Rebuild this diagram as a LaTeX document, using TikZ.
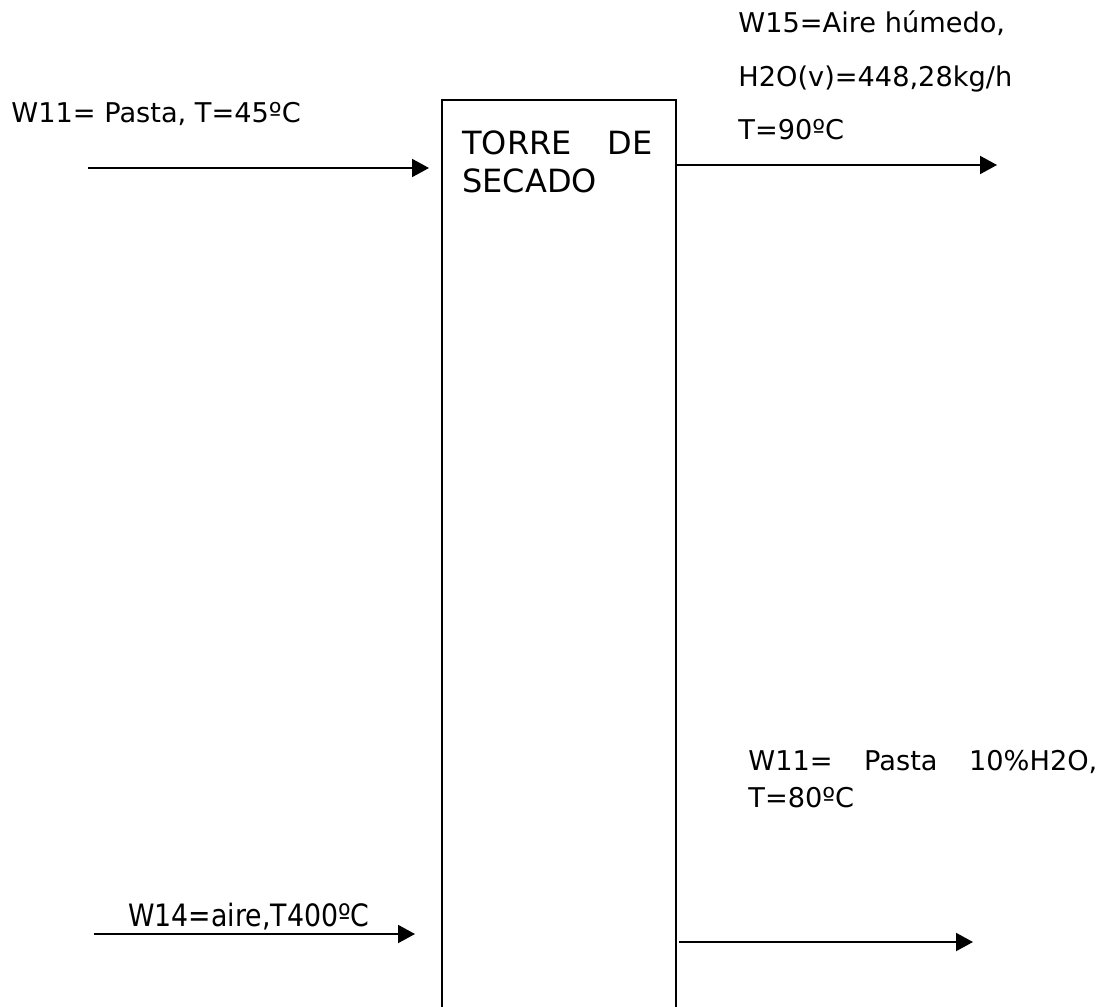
\documentclass[tikz,border=0pt]{standalone}
\usepackage{fontspec}
\setmainfont{DejaVu Sans}
\newfontfamily\narrowfont{DejaVu Sans}[FakeStretch=0.87]
\usetikzlibrary{arrows.meta,positioning}

\begin{document}
\begin{tikzpicture}[x=0.5pt, y=-0.5pt,
  lbl/.style={anchor=base west, inner sep=0pt, font=\fontsize{13.6}{16}\selectfont},
  narrowlbl/.style={anchor=base west, inner sep=0pt, font=\narrowfont\fontsize{15.4}{17}\selectfont},
  ttl/.style={anchor=base west, inner sep=0pt, font=\fontsize{16}{18}\selectfont},
  tower/.style={draw, line width=1pt, anchor=north west, inner sep=0pt, minimum width=117pt, minimum height=470pt},
  arr/.style={-{Triangle[length=8.5pt, width=9pt]}, line width=1pt}
]
  \useasboundingbox (0,0) rectangle (1107,1006);

  % drying tower
  \node[tower] (torre) at (441,99) {};
  \node[ttl] (ttl1) at (462,155) {\makebox[95pt][s]{TORRE DE}};
  \node[ttl] (ttl2) at (462,192) {SECADO};

  % stream ends
  \coordinate (w11a) at (88,168);
  \coordinate (w11b) at (429,168);
  \coordinate (w15b) at (997,165);
  \coordinate (w14a) at (94,934);
  \coordinate (w14b) at (415,934);
  \coordinate (w11outb) at (973,942);

  \draw[arr] (w11a) -- (w11b);
  \draw[arr] (torre.east |- w15b) -- (w15b);
  \draw[arr] (w14a) -- (w14b);
  \draw[arr] ([xshift=1pt]torre.east |- w11outb) -- (w11outb);

  % labels
  \node[lbl] (w11lbl) at (11,122) {W11= Pasta, T=45ºC};
  \node[lbl] (w15l1) at (738,33) {W15=Aire húmedo,};
  \node[lbl] (w15l2) at (738,87) {H2O(v)=448,28kg/h};
  \node[lbl] (w15l3) at (738,140) {T=90ºC};
  \node[lbl] (w11ol1) at (748,770) {\makebox[174.5pt][s]{W11= Pasta 10\%H2O,}};
  \node[lbl] (w11ol2) at (748,807) {T=80ºC};
  \node[narrowlbl] (w14lbl) at (128,926) {W14=aire,T400ºC};
\end{tikzpicture}
\end{document}
